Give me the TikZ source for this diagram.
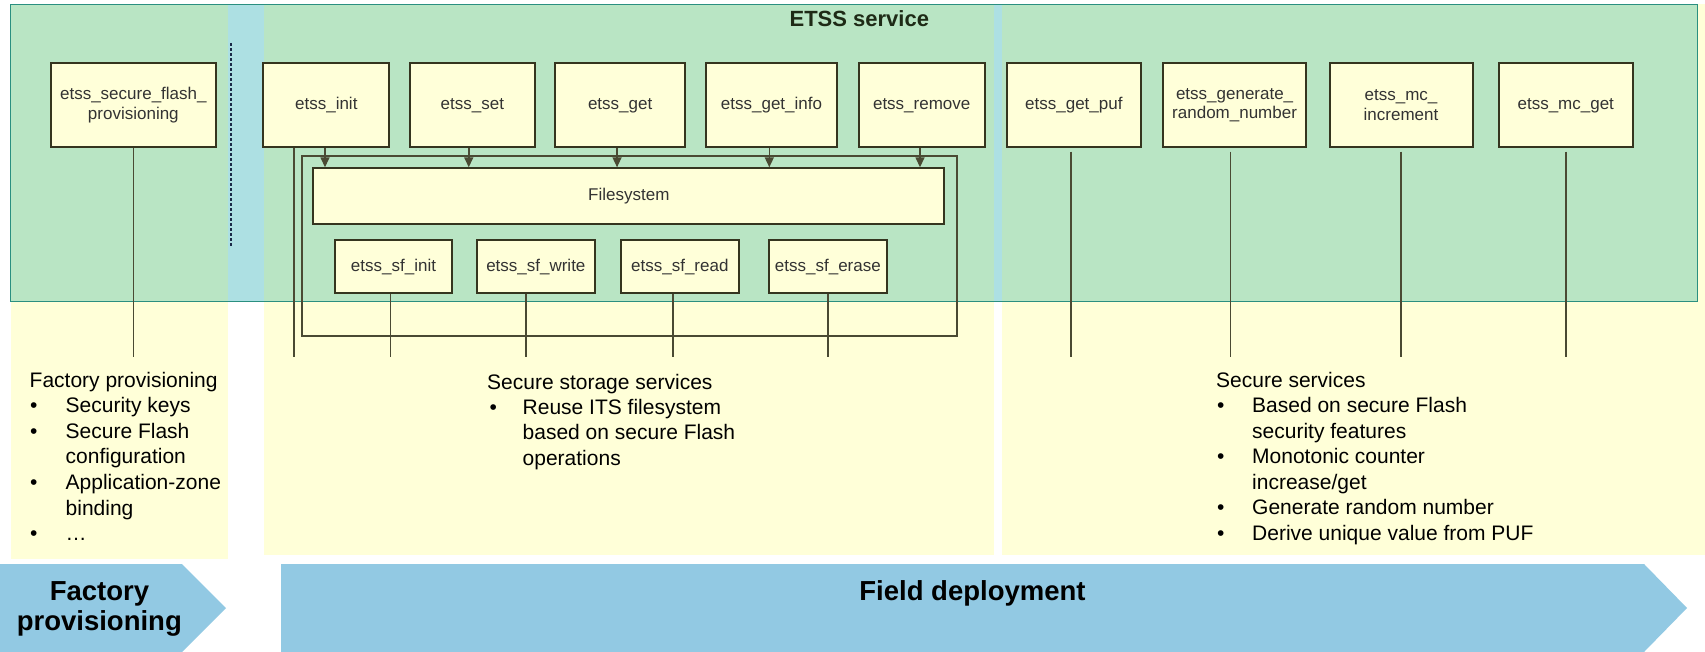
\documentclass[tikz,border=0pt]{standalone}
\usepackage{fontspec}
\setmainfont{Liberation Sans}
\usetikzlibrary{arrows.meta}

\definecolor{panelyellow}{HTML}{FFFFD8}
\definecolor{servicegreen}{HTML}{B9E5C4}
\definecolor{gapblue}{HTML}{ADE0E3}
\definecolor{greenedge}{HTML}{2A8F80}
\definecolor{boxfill}{HTML}{FFFFD9}
\definecolor{boxedge}{HTML}{35351F}
\definecolor{wire}{HTML}{4A4A33}
\definecolor{phaseblue}{HTML}{92C9E3}
\definecolor{titlecol}{HTML}{1E2A16}
\definecolor{dotcol}{HTML}{1B2A48}

\tikzset{
  fnbox/.style={draw=boxedge, line width=2pt, fill=boxfill, inner sep=0pt,
    align=center, text=black!80, font=\fontsize{17}{19.5}\selectfont},
  topbox/.style={fnbox, minimum height=84pt},
  sfbox/.style={fnbox, minimum height=53.3pt},
  wireline/.style={draw=wire, line width=1.5pt},
  callarrow/.style={wireline, -{Triangle[length=10pt,width=9pt]}},
  bodytxt/.style={anchor=base west, inner sep=0pt, text=black,
    font=\fontsize{21}{25.7}\selectfont},
  phasetxt/.style={anchor=base, inner sep=0pt, text=black,
    font=\fontsize{27.5}{30}\selectfont\bfseries},
}

\begin{document}
\begin{tikzpicture}[x=1pt, y=-1pt]
\useasboundingbox (0,0) rectangle (1705,652);
\fill[white] (0,0) rectangle (1705,652);

% phase panels
\fill[panelyellow] (11,4.3) rectangle (227.7,559);
\fill[panelyellow] (264,4.3) rectangle (994,555);
\fill[panelyellow] (1002,4.3) rectangle (1705,555);

% ETSS service area
\fill[servicegreen] (10.3,4.3) rectangle (1697.6,301.7);
\fill[gapblue] (227.7,4.3) rectangle (264,301.7);
\fill[gapblue] (994,4.3) rectangle (1002,301.7);
\draw[greenedge, line width=1.3pt] (10.3,4.3) rectangle (1697.6,301.7);

\node[inner sep=0pt, text=titlecol, font=\fontsize{22}{26}\selectfont\bfseries]
  (title) at (859.3,18.3) {ETSS service};

% separator between provisioning and field API
\coordinate (septop) at (231,43);
\coordinate (sepbot) at (231,247);
\draw[dotcol, line width=1.5pt, dash pattern=on 3pt off 2pt] (septop) -- (sepbot);

% storage frame
\node[draw=wire, line width=2pt, minimum width=654.4pt, minimum height=180.6pt,
  inner sep=0pt] (frame) at (629.5,246) {};

% API boxes
\node[topbox, minimum width=165.3pt] (sfp) at (133.35,105.3) {etss\_secure\_flash\_\\provisioning};
\node[topbox, minimum width=126pt] (init) at (326.3,105.3) {etss\_init};
\node[topbox, minimum width=124.7pt] (set) at (472.35,105.3) {etss\_set};
\node[topbox, minimum width=129.7pt] (get) at (620.15,105.3) {etss\_get};
\node[topbox, minimum width=130.4pt] (getinfo) at (771.5,105.3) {etss\_get\_info};
\node[topbox, minimum width=126pt] (remove) at (921.7,105.3) {etss\_remove};
\node[topbox, minimum width=134.3pt] (getpuf) at (1073.85,105.3) {etss\_get\_puf};
\node[topbox, minimum width=143pt] (genrand) at (1234.6,105.3) {etss\_generate\_\\random\_number};
\node[topbox, minimum width=143pt] (mcinc) at (1401,105.3) {etss\_mc\_\\increment};
\node[topbox, minimum width=134.1pt] (mcget) at (1565.75,105.3) {etss\_mc\_get};

\node[fnbox, minimum width=631pt, minimum height=56pt] (fs) at (628.8,196.3) {Filesystem};

\node[sfbox, minimum width=117.6pt] (sfinit) at (393.5,266.65) {etss\_sf\_init};
\node[sfbox, minimum width=117.7pt] (sfwrite) at (535.85,266.65) {etss\_sf\_write};
\node[sfbox, minimum width=117.7pt] (sfread) at (679.85,266.65) {etss\_sf\_read};
\node[sfbox, minimum width=117.7pt] (sferase) at (827.85,266.65) {etss\_sf\_erase};

% calls into the filesystem
\draw[callarrow] ([xshift=-1.3pt]init.south) -- ([xshift=-1.3pt]init.south |- fs.north);
\draw[callarrow] ([xshift=-3.6pt]set.south) -- ([xshift=-3.6pt]set.south |- fs.north);
\draw[callarrow] ([xshift=-3.1pt]get.south) -- ([xshift=-3.1pt]get.south |- fs.north);
\draw[callarrow] ([xshift=-2.2pt]getinfo.south) -- ([xshift=-2.2pt]getinfo.south |- fs.north);
\draw[callarrow] ([xshift=-1.7pt]remove.south) -- ([xshift=-1.7pt]remove.south |- fs.north);

% drop lines into the description panels
\coordinate (floor) at (0,356.7);
\draw[wireline] (sfp.south) -- (sfp.south |- floor);
\draw[wireline] ([xshift=31.7pt]init.south west) -- ([xshift=31.7pt]init.south west |- floor);
\draw[wireline] ([xshift=-2.8pt]sfinit.south) -- ([xshift=-2.8pt]sfinit.south |- floor);
\draw[wireline] ([xshift=-9.85pt]sfwrite.south) -- ([xshift=-9.85pt]sfwrite.south |- floor);
\draw[wireline] ([xshift=-6.85pt]sfread.south) -- ([xshift=-6.85pt]sfread.south |- floor);
\draw[wireline] (sferase.south) -- (sferase.south |- floor);
\draw[wireline] ([xshift=-2.85pt,yshift=-3.4pt]getpuf.south) -- ([xshift=-2.85pt]getpuf.south |- floor);
\draw[wireline] ([xshift=-3.9pt,yshift=-3.4pt]genrand.south) -- ([xshift=-3.9pt]genrand.south |- floor);
\draw[wireline] ([yshift=-3.4pt]mcinc.south) -- (mcinc.south |- floor);
\draw[wireline] ([yshift=-3.4pt]mcget.south) -- (mcget.south |- floor);

% factory provisioning description
\node[bodytxt] (fph) at (29.5,387.5) {Factory provisioning};
\node[bodytxt] (fpb1) at (30,412.4) {•};
\node[bodytxt] (fpt1) at (65.5,412.4) {Security keys};
\node[bodytxt] (fpb2) at (30,438.1) {•};
\node[bodytxt] (fpt2) at (65.5,438.1) {Secure Flash};
\node[bodytxt] (fpt2b) at (65.5,463.8) {configuration};
\node[bodytxt] (fpb3) at (30,489.5) {•};
\node[bodytxt] (fpt3) at (65.5,489.5) {Application-zone};
\node[bodytxt] (fpt3b) at (65.5,515.2) {binding};
\node[bodytxt] (fpb4) at (30,540.9) {•};
\node[bodytxt] (fpt4) at (65.5,540.9) {…};

% secure storage description
\node[bodytxt] (ssh) at (487,389) {Secure storage services};
\node[bodytxt] (ssb1) at (489.5,414.2) {•};
\node[bodytxt] (sst1) at (522.5,414.2) {Reuse ITS filesystem};
\node[bodytxt] (sst1b) at (522.5,439.9) {based on secure Flash};
\node[bodytxt] (sst1c) at (522.5,465.6) {operations};

% secure services description
\node[bodytxt] (svh) at (1216,387.5) {Secure services};
\node[bodytxt] (svb1) at (1217,412.5) {•};
\node[bodytxt] (svt1) at (1252,412.5) {Based on secure Flash};
\node[bodytxt] (svt1b) at (1252,438) {security features};
\node[bodytxt] (svb2) at (1217,463.5) {•};
\node[bodytxt] (svt2) at (1252,463.5) {Monotonic counter};
\node[bodytxt] (svt2b) at (1252,489) {increase/get};
\node[bodytxt] (svb3) at (1217,514.5) {•};
\node[bodytxt] (svt3) at (1252,514.5) {Generate random number};
\node[bodytxt] (svb4) at (1217,540) {•};
\node[bodytxt] (svt4) at (1252,540) {Derive unique value from PUF};

% phase chevrons
\fill[phaseblue] (0,564) -- (182,564) -- (226,608) -- (182,652) -- (0,652) -- cycle;
\fill[phaseblue] (281,564) -- (1644,564) -- (1687,608) -- (1644,652) -- (281,652) -- cycle;
\node[phasetxt] (factory1) at (99.5,600.5) {Factory};
\node[phasetxt] (factory2) at (99.3,630.5) {provisioning};
\node[phasetxt] (field) at (972.5,600.7) {Field deployment};
\end{tikzpicture}
\end{document}
